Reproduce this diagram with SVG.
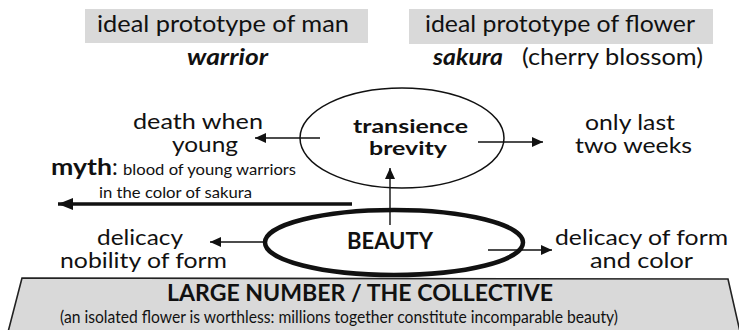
<svg xmlns="http://www.w3.org/2000/svg" width="739" height="330" viewBox="0 0 739 330">
<style>
text{font-family:Lato,"Open Sans",sans-serif;fill:#111}
.b{font-weight:bold}
.bi{font-weight:bold;font-style:italic}
.hdr{fill:#d9d9d9}
.c{fill:none;stroke:#111;stroke-width:1.4}
</style>
<defs>
<marker id="ah" markerUnits="userSpaceOnUse" markerWidth="12" markerHeight="10" refX="11" refY="5" orient="auto">
<path d="M0,0 L11,5 L0,10 z" fill="#111"/>
</marker>
<marker id="ahb" markerUnits="userSpaceOnUse" markerWidth="16" markerHeight="12" refX="15" refY="6" orient="auto">
<path d="M0,0 L15,6 L0,12 z" fill="#111"/>
</marker>
</defs>
<rect width="739" height="330" fill="#fff"/>

<g id="man">
<rect class="hdr" x="85" y="9" width="283" height="34"/>
<text x="97" y="32" font-size="23" textLength="252" lengthAdjust="spacingAndGlyphs">ideal prototype of man</text>
<text class="bi" x="187" y="65" font-size="23" textLength="81" lengthAdjust="spacingAndGlyphs">warrior</text>
</g>

<g id="flower">
<rect class="hdr" x="409" y="9" width="304" height="35"/>
<text x="425" y="32" font-size="23" textLength="270" lengthAdjust="spacingAndGlyphs">ideal prototype of flower</text>
<text class="bi" x="433" y="65" font-size="23" textLength="70" lengthAdjust="spacingAndGlyphs">sakura</text>
<text x="522" y="65" font-size="23" textLength="181" lengthAdjust="spacingAndGlyphs">(cherry blossom)</text>
</g>

<g id="transience">
<ellipse cx="402" cy="138" rx="102" ry="50" fill="none" stroke="#111" stroke-width="1.5"/>
<text class="b" x="353" y="133" font-size="19.5" textLength="115" lengthAdjust="spacingAndGlyphs">transience</text>
<text class="b" x="369" y="155" font-size="19.5" textLength="78" lengthAdjust="spacingAndGlyphs">brevity</text>
</g>

<g id="death">
<text x="133" y="129" font-size="21" textLength="130" lengthAdjust="spacingAndGlyphs">death when</text>
<text x="172" y="152" font-size="21" textLength="66" lengthAdjust="spacingAndGlyphs">young</text>
</g>

<g id="twoweeks">
<text x="585" y="130" font-size="21" textLength="90" lengthAdjust="spacingAndGlyphs">only last</text>
<text x="575" y="153" font-size="21" textLength="117" lengthAdjust="spacingAndGlyphs">two weeks</text>
</g>

<g id="myth">
<text class="b" x="51" y="175" font-size="23" textLength="61" lengthAdjust="spacingAndGlyphs">myth</text>
<text x="112" y="175" font-size="23">:</text>
<text x="123" y="175" font-size="16" textLength="173" lengthAdjust="spacingAndGlyphs">blood of young warriors</text>
<text x="99" y="198" font-size="16" textLength="153" lengthAdjust="spacingAndGlyphs">in the color of sakura</text>
</g>

<g id="beauty">
<ellipse cx="394" cy="242.5" rx="129" ry="32.5" fill="none" stroke="#111" stroke-width="4.5"/>
<text class="b" x="347" y="249" font-size="22" textLength="86" lengthAdjust="spacingAndGlyphs">BEAUTY</text>
</g>

<g id="nobility">
<text x="97" y="245" font-size="21" textLength="86" lengthAdjust="spacingAndGlyphs">delicacy</text>
<text x="60" y="268" font-size="21" textLength="167" lengthAdjust="spacingAndGlyphs">nobility of form</text>
</g>

<g id="formcolor">
<text x="555" y="245" font-size="21" textLength="173" lengthAdjust="spacingAndGlyphs">delicacy of form</text>
<text x="590" y="268" font-size="21" textLength="103" lengthAdjust="spacingAndGlyphs">and color</text>
</g>

<g id="collective">
<polygon points="22,278 728,279 741,336 7,336" fill="#d9d9d9" stroke="#222" stroke-width="1.6"/>
<text class="b" x="167" y="301" font-size="22" textLength="386" lengthAdjust="spacingAndGlyphs">LARGE NUMBER / THE COLLECTIVE</text>
<text x="60" y="323" font-size="17" textLength="558" lengthAdjust="spacingAndGlyphs">(an isolated flower is worthless: millions together constitute incomparable beauty)</text>
</g>

<g id="connectors">
<line class="c" x1="320" y1="138" x2="255" y2="138" marker-end="url(#ah)"/>
<line class="c" x1="478" y1="142" x2="543" y2="142" marker-end="url(#ah)"/>
<line class="c" x1="390" y1="225" x2="390" y2="168" marker-end="url(#ah)"/>
<line x1="352" y1="204" x2="58" y2="204" stroke="#111" stroke-width="3.5" marker-end="url(#ahb)"/>
<line class="c" x1="267" y1="242" x2="210" y2="242" marker-end="url(#ah)"/>
<line class="c" x1="488" y1="250" x2="552" y2="250" marker-end="url(#ah)"/>
</g>
</svg>
